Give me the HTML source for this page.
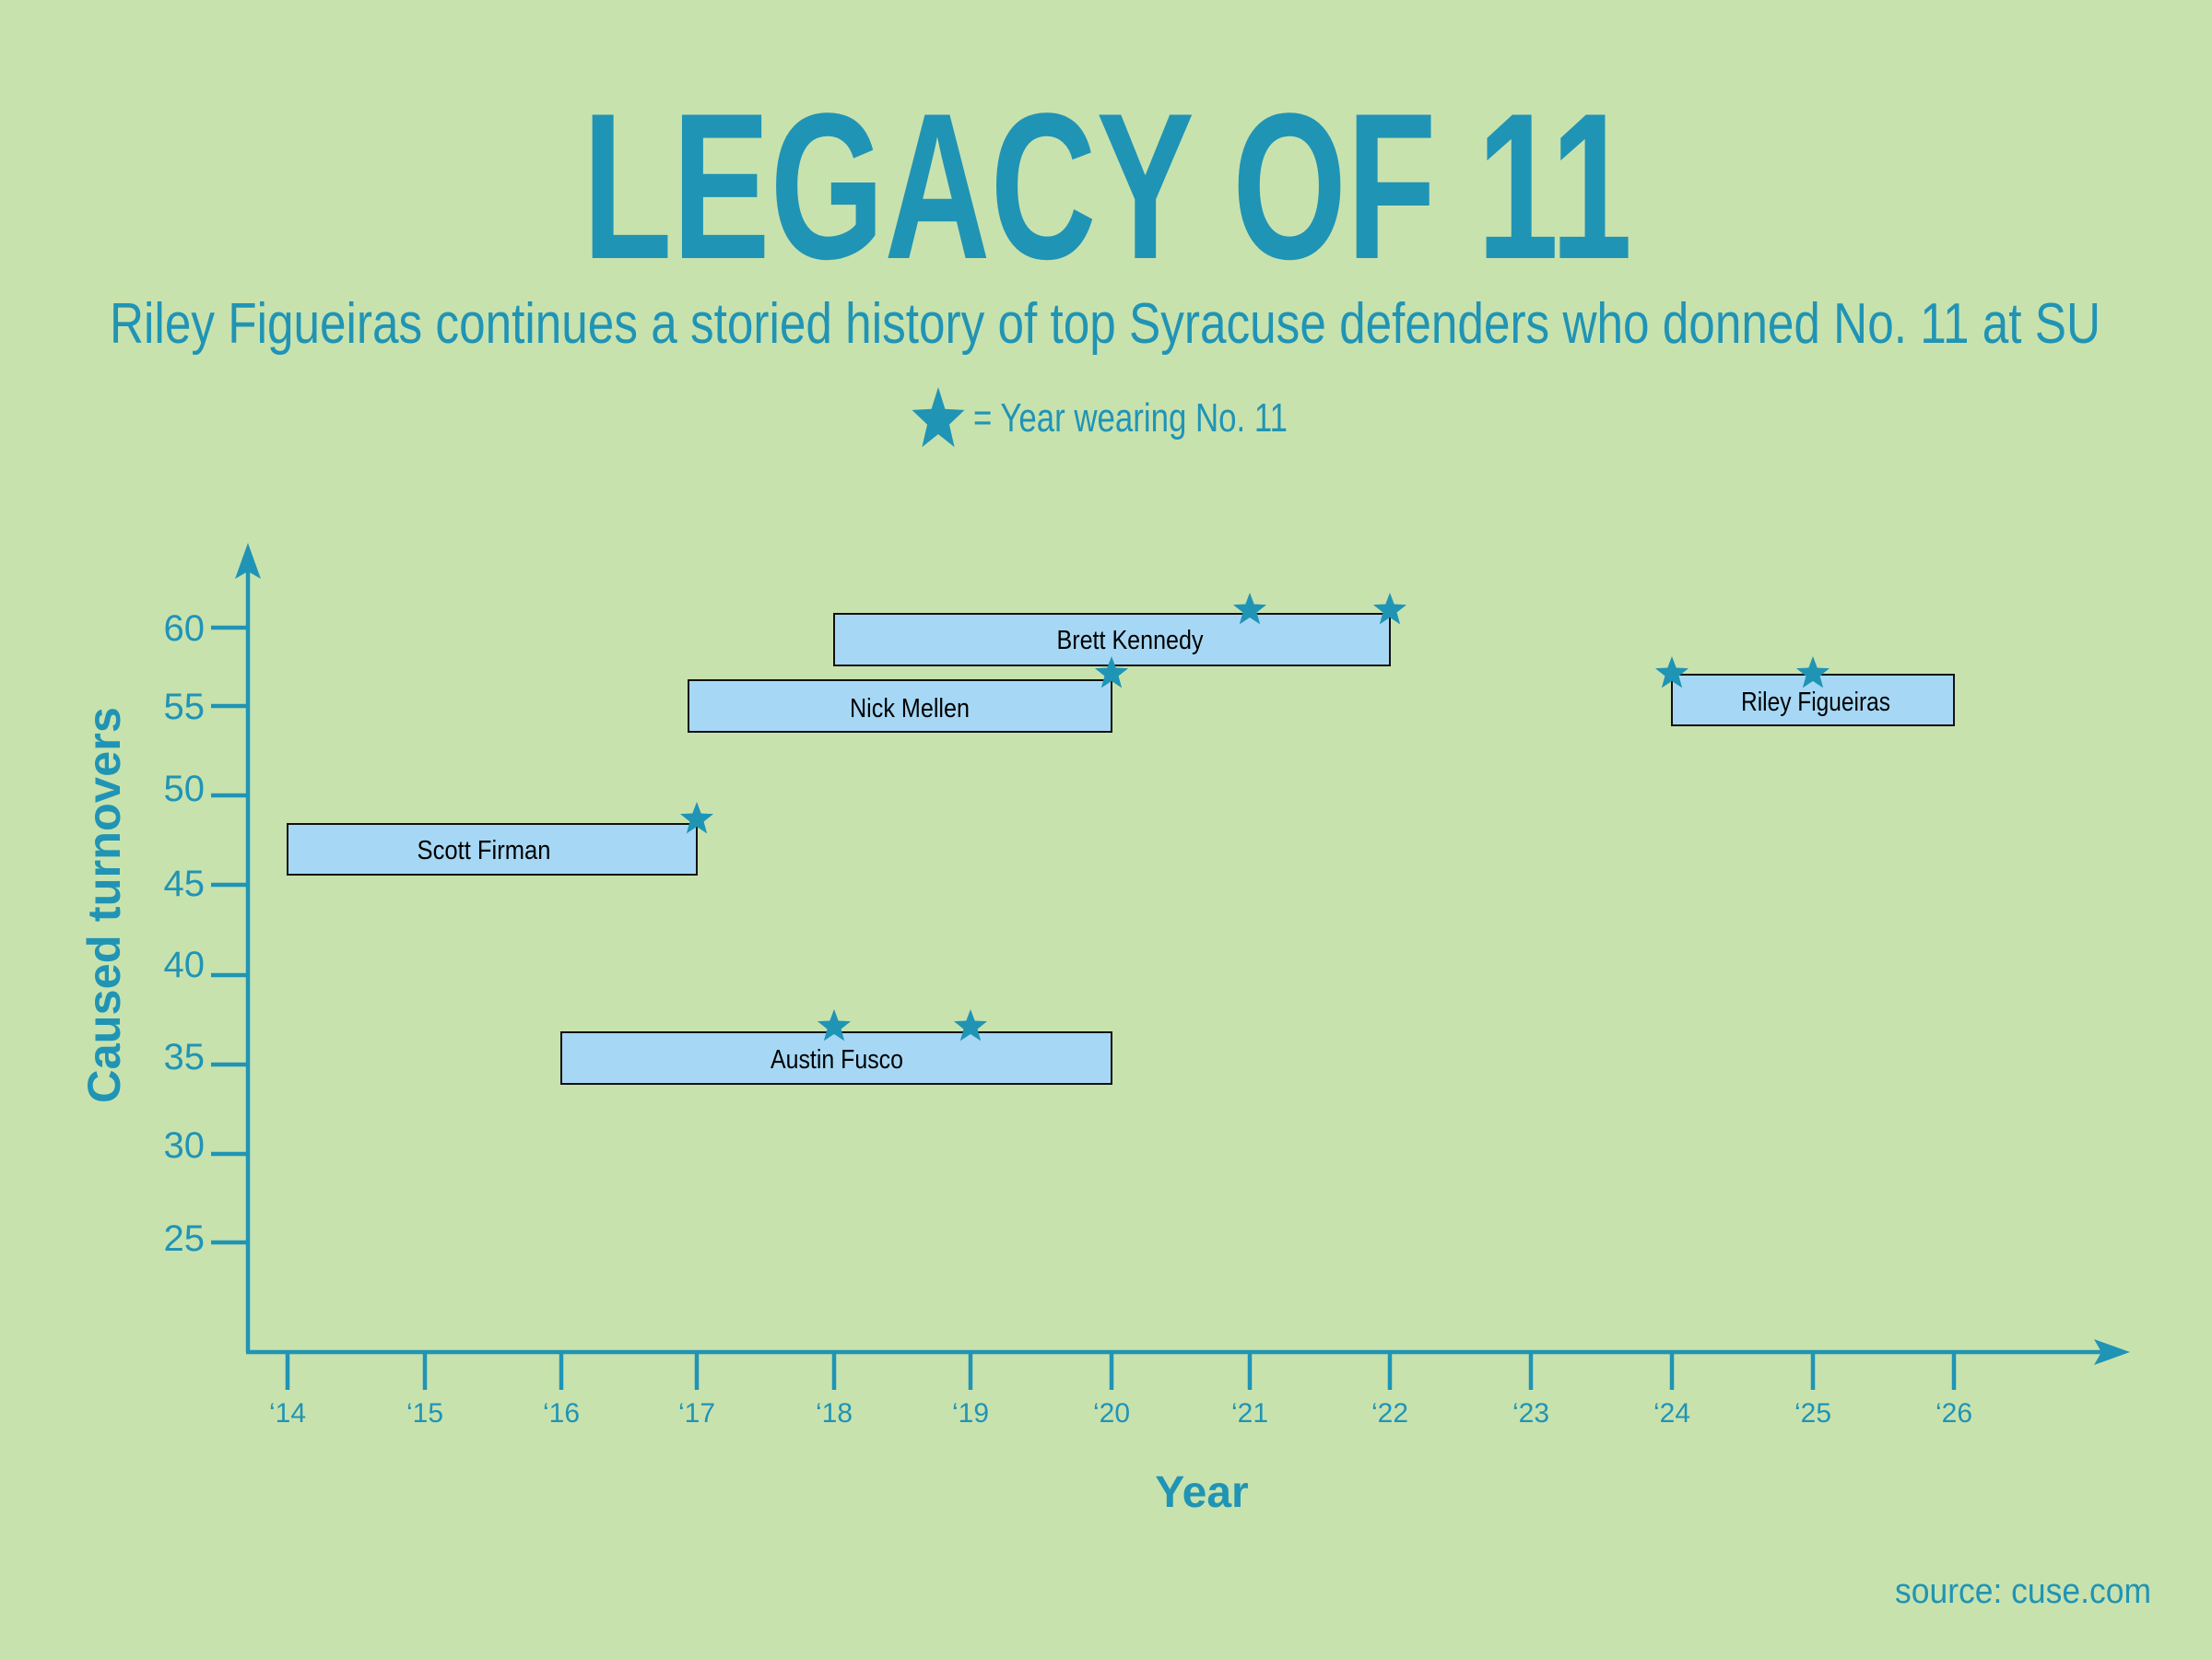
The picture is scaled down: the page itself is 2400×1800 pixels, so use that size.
<!DOCTYPE html>
<html><head><meta charset="utf-8"><style>
html,body{margin:0;padding:0;background:#c8e2ae;}
svg{display:block;}
text{font-family:"Liberation Sans",sans-serif;}
</style></head><body>
<svg width="2400" height="1800" viewBox="0 0 2400 1800" xmlns="http://www.w3.org/2000/svg">
<defs>
<polygon id="st" points="0,-1 0.247,-0.34 0.951,-0.309 0.399,0.13 0.588,0.809 0,0.42 -0.588,0.809 -0.399,0.13 -0.951,-0.309 -0.247,-0.34" fill="#2094b5"/>
</defs>
<rect width="2400" height="1800" fill="#c8e2ae"/>
<text x="632" y="280" font-size="226" font-weight="bold" fill="#2094b5" textLength="1139" lengthAdjust="spacingAndGlyphs">LEGACY OF 11</text>
<text x="119" y="372" font-size="62" fill="#2094b5" textLength="2160" lengthAdjust="spacingAndGlyphs">Riley Figueiras continues a storied history of top Syracuse defenders who donned No. 11 at SU</text>
<use href="#st" transform="translate(1018,456) scale(30,36)"/>
<text x="1056" y="468" font-size="44" fill="#2094b5" textLength="341" lengthAdjust="spacingAndGlyphs">= Year wearing No. 11</text>

<g stroke="#2094b5" stroke-width="4.5" fill="none">
<line x1="269" y1="600" x2="269" y2="1467"/>
<line x1="267" y1="1467" x2="2300" y2="1467"/>
<line x1="229" y1="681" x2="269" y2="681"/>
<line x1="229" y1="766" x2="269" y2="766"/>
<line x1="229" y1="863" x2="269" y2="863"/>
<line x1="229" y1="960" x2="269" y2="960"/>
<line x1="229" y1="1058" x2="269" y2="1058"/>
<line x1="229" y1="1155" x2="269" y2="1155"/>
<line x1="229" y1="1252" x2="269" y2="1252"/>
<line x1="229" y1="1348" x2="269" y2="1348"/>
<line x1="312" y1="1467" x2="312" y2="1508"/>
<line x1="461" y1="1467" x2="461" y2="1508"/>
<line x1="609" y1="1467" x2="609" y2="1508"/>
<line x1="756" y1="1467" x2="756" y2="1508"/>
<line x1="905" y1="1467" x2="905" y2="1508"/>
<line x1="1053" y1="1467" x2="1053" y2="1508"/>
<line x1="1206" y1="1467" x2="1206" y2="1508"/>
<line x1="1356" y1="1467" x2="1356" y2="1508"/>
<line x1="1508" y1="1467" x2="1508" y2="1508"/>
<line x1="1661" y1="1467" x2="1661" y2="1508"/>
<line x1="1814" y1="1467" x2="1814" y2="1508"/>
<line x1="1967" y1="1467" x2="1967" y2="1508"/>
<line x1="2120" y1="1467" x2="2120" y2="1508"/>
</g>
<polygon points="269,589 283,628 269,620 255,628" fill="#2094b5"/>
<polygon points="2311,1467 2272,1453 2280,1467 2272,1481" fill="#2094b5"/>

<g font-size="40" fill="#2094b5" text-anchor="end">
<text x="222" y="695">60</text>
<text x="222" y="780">55</text>
<text x="222" y="869">50</text>
<text x="222" y="972">45</text>
<text x="222" y="1060">40</text>
<text x="222" y="1160">35</text>
<text x="222" y="1256">30</text>
<text x="222" y="1357">25</text>
</g>
<g font-size="30" fill="#2094b5" text-anchor="middle">
<text x="312" y="1543">‘14</text>
<text x="461" y="1543">‘15</text>
<text x="609" y="1543">‘16</text>
<text x="756" y="1543">‘17</text>
<text x="905" y="1543">‘18</text>
<text x="1053" y="1543">‘19</text>
<text x="1206" y="1543">‘20</text>
<text x="1356" y="1543">‘21</text>
<text x="1508" y="1543">‘22</text>
<text x="1661" y="1543">‘23</text>
<text x="1814" y="1543">‘24</text>
<text x="1967" y="1543">‘25</text>
<text x="2120" y="1543">‘26</text>
</g>
<text transform="translate(130,982) rotate(-90)" font-size="50" font-weight="bold" fill="#2094b5" text-anchor="middle" textLength="430" lengthAdjust="spacingAndGlyphs">Caused turnovers</text>
<text x="1304" y="1635" font-size="48" font-weight="bold" fill="#2094b5" text-anchor="middle">Year</text>
<text x="2334" y="1739" font-size="38" fill="#2094b5" text-anchor="end" textLength="278" lengthAdjust="spacingAndGlyphs">source: cuse.com</text>

<g fill="#a6d8f5" stroke="#111" stroke-width="2">
<rect x="312" y="894" width="444" height="55"/>
<rect x="609" y="1120" width="597" height="56"/>
<rect x="747" y="738" width="459" height="56"/>
<rect x="905" y="666" width="603" height="56"/>
<rect x="1814" y="732" width="306" height="55"/>
</g>
<g font-size="29" fill="#000" text-anchor="middle">
<text x="525" y="932" textLength="145" lengthAdjust="spacingAndGlyphs">Scott Firman</text>
<text x="908" y="1159" textLength="144" lengthAdjust="spacingAndGlyphs">Austin Fusco</text>
<text x="987" y="778" textLength="130" lengthAdjust="spacingAndGlyphs">Nick Mellen</text>
<text x="1226" y="704" textLength="159" lengthAdjust="spacingAndGlyphs">Brett Kennedy</text>
<text x="1970" y="771" textLength="162" lengthAdjust="spacingAndGlyphs">Riley Figueiras</text>
</g>
<g>
<use href="#st" transform="translate(756,889) scale(19)"/>
<use href="#st" transform="translate(905,1114) scale(19)"/>
<use href="#st" transform="translate(1053,1114) scale(19)"/>
<use href="#st" transform="translate(1206,731) scale(19)"/>
<use href="#st" transform="translate(1356,662) scale(19)"/>
<use href="#st" transform="translate(1508,662) scale(19)"/>
<use href="#st" transform="translate(1814,731) scale(19)"/>
<use href="#st" transform="translate(1967,731) scale(19)"/>
</g>
</svg>
</body></html>
